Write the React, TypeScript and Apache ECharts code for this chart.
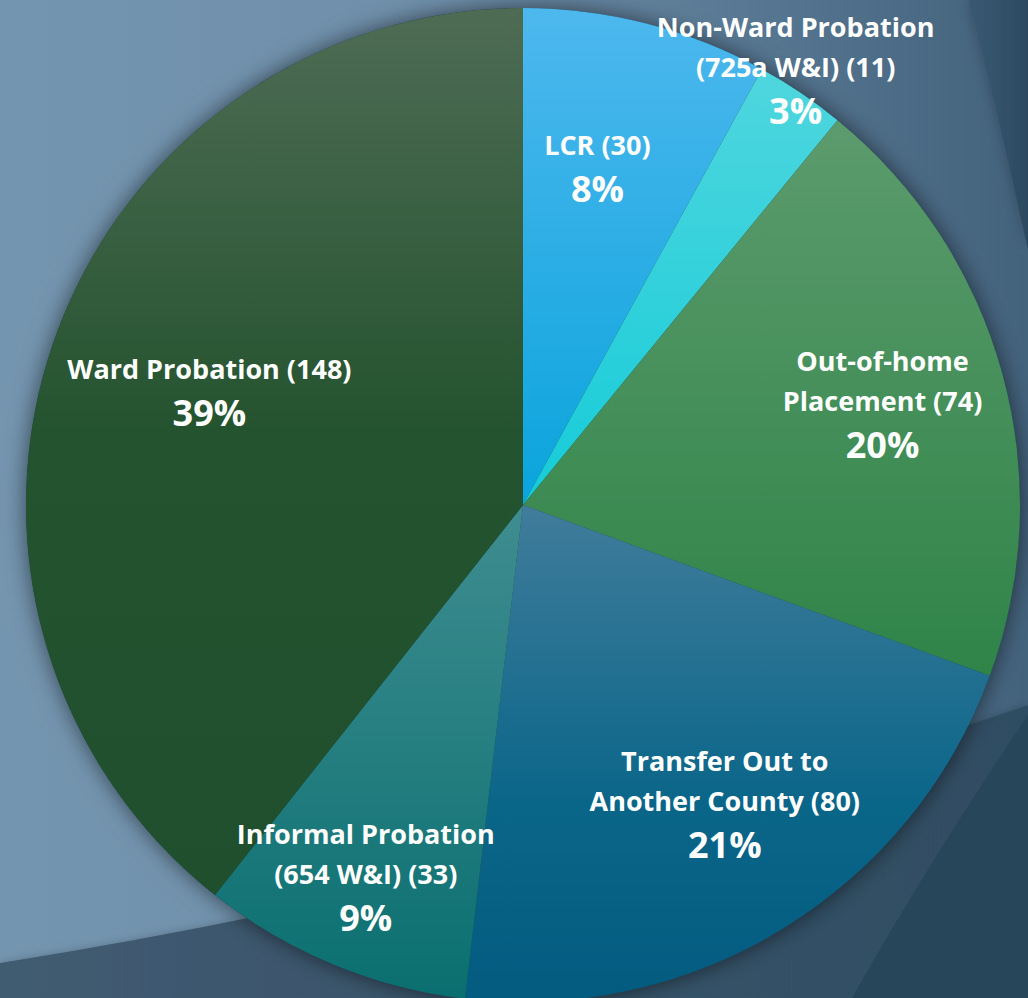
import React, { useEffect, useRef } from "react";
import * as echarts from "echarts";

// ---- data ----
const categories = [
  "LCR (30)",
  "Non-Ward Probation\n(725a W&I) (11)",
  "Out-of-home\nPlacement (74)",
  "Transfer Out to\nAnother County (80)",
  "Informal Probation\n(654 W&I) (33)",
  "Ward Probation (148)",
];
const values = [30, 11, 74, 80, 33, 148];

// ---- styling (not data) ----
const sliceStops: [number, string][][] = [
  [[0, "#4db8ee"], [1, "#0aa4dc"]],
  [[0, "#4fd6de"], [1, "#15ccd8"]],
  [[0, "#5c9b6d"], [1, "#2f8448"]],
  [[0, "#417c9b"], [0.6, "#0a6689"], [1, "#035b80"]],
  [[0, "#3f8d90"], [1, "#0a6f70"]],
  [[0, "#4e6c54"], [0.48, "#24532f"], [1, "#1f4f2d"]],
];
const labelOffsets: [number, number][] = [
  [12, -93],
  [132, -226],
  [117, -34],
  [70, 85],
  [-61, 140],
  [-76, -30],
];

const CX = 523;
const CY = 505;
const R = 497;

echarts.graphic.registerShape(
  "bgTopRight",
  echarts.graphic.extendPath("M968,0 C990,80 1010,170 1028,250 L1028,0 Z", {})
);
echarts.graphic.registerShape(
  "bgBottom",
  echarts.graphic.extendPath("M0,963 Q520,880 1028,705 L1028,998 L0,998 Z", {})
);
echarts.graphic.registerShape(
  "bgBottomRight",
  echarts.graphic.extendPath("M1028,715 Q930,860 852,998 L1028,998 Z", {})
);

export default function App() {
  const ref = useRef<HTMLDivElement>(null);
  useEffect(() => {
    document.body.style.margin = "0";
    if (!ref.current) return;
    const chart = echarts.init(ref.current, undefined, { renderer: "svg" });
    const total = values.reduce((a, b) => a + b, 0);
    const data = categories.map((name, i) => ({
      name,
      value: values[i],
      itemStyle: {
        color: new echarts.graphic.LinearGradient(
          0,
          0,
          0,
          1,
          sliceStops[i].map(([offset, color]) => ({ offset, color }))
        ),
      },
      label: { offset: labelOffsets[i] },
    }));
    chart.setOption({
      animation: false,
      graphic: [
        {
          type: "rect",
          z: -10,
          shape: { x: 0, y: 0, width: 1028, height: 998 },
          style: {
            fill: new echarts.graphic.LinearGradient(0, 0, 1, 0, [
              { offset: 0, color: "#7495af" },
              { offset: 0.45, color: "#6e8ea9" },
              { offset: 0.75, color: "#557590" },
              { offset: 1, color: "#43627c" },
            ]),
          },
        },
        {
          type: "bgTopRight",
          z: -9,
          style: {
            fill: new echarts.graphic.LinearGradient(0, 0, 1, 0, [
              { offset: 0, color: "#3a5a73" },
              { offset: 1, color: "#2c4a60" },
            ]),
            shadowBlur: 14,
            shadowColor: "rgba(0,0,0,0.25)",
          },
        },
        {
          type: "bgBottom",
          z: -9,
          style: {
            fill: new echarts.graphic.LinearGradient(0, 0, 1, 0, [
              { offset: 0, color: "#415b71" },
              { offset: 1, color: "#2f4d62" },
            ]),
            shadowBlur: 8,
            shadowColor: "rgba(0,0,0,0.2)",
          },
        },
        {
          type: "bgBottomRight",
          z: -8,
          style: { fill: "#27465a" },
        },
        {
          type: "circle",
          z: -5,
          shape: { cx: CX, cy: CY, r: R },
          style: {
            fill: "#1f3a4a",
            shadowBlur: 22,
            shadowColor: "rgba(0,0,0,0.55)",
          },
        },
      ],
      series: [
        {
          type: "pie",
          center: [CX, CY],
          radius: R,
          startAngle: 90,
          clockwise: true,
          data,
          label: {
            show: true,
            position: "inside",
            formatter: (p: any) =>
              `{n|${p.name}}\n{p|${Math.round((p.value / total) * 100)}%}`,
            color: "#ffffff",
            align: "center",
            rich: {
              n: {
                fontFamily: "Open Sans",
                fontWeight: "bold",
                fontSize: 27,
                lineHeight: 40,
                color: "#ffffff",
                align: "center",
              },
              p: {
                fontFamily: "Open Sans",
                fontWeight: "bold",
                fontSize: 36,
                lineHeight: 48,
                color: "#ffffff",
                align: "center",
              },
            },
          },
          labelLine: { show: false },
          emphasis: { disabled: true },
          itemStyle: { borderWidth: 0 },
        },
      ],
    });
    return () => chart.dispose();
  }, []);
  return <div ref={ref} style={{ width: 1028, height: 998 }} />;
}
